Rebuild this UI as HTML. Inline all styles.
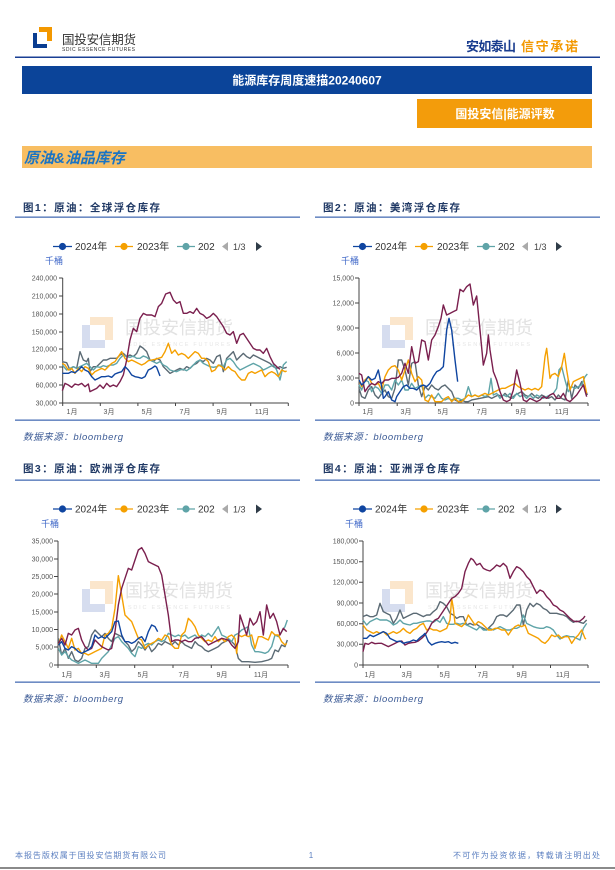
<!DOCTYPE html>
<html><head><meta charset="utf-8">
<style>
html,body{margin:0;padding:0;background:#fff;}
body{width:615px;height:870px;position:relative;overflow:hidden;font-family:"Liberation Sans","Noto Sans CJK SC",sans-serif;}
svg{position:absolute;left:0;top:0;}
.ax{stroke:#444;stroke-width:1;fill:none;}
.yl{font-size:7px;fill:#555;text-anchor:end;}
.xl{font-size:7px;fill:#555;text-anchor:middle;}
.lg{font-size:10px;fill:#333;}
.ln{fill:none;stroke-width:1.4;stroke-linejoin:round;vector-effect:non-scaling-stroke;}
.pu{stroke:#7a1f4e;} .gr{stroke:#5b6a74;} .te{stroke:#5fa4a8;} .or{stroke:#f5a000;} .bl{stroke:#0f45a0;}
.ti{font-size:10.5px;font-weight:bold;fill:#1f3864;}
.src{font-size:9.5px;font-style:italic;fill:#3b5a95;}
.unit{font-size:9px;fill:#4169c8;}
.wm{font-size:18px;fill:#e2e2e2;}
.wms{font-size:5.5px;fill:#e6e6e6;letter-spacing:2px;}
</style></head>
<body>
<svg width="615" height="870" viewBox="0 0 615 870" xmlns="http://www.w3.org/2000/svg">
<!-- header logo -->
<rect x="33" y="33" width="14" height="15" fill="#0a3d91"/>
<rect x="37" y="33" width="10" height="11" fill="#fff"/>
<rect x="39" y="27" width="13" height="5" fill="#f39800"/>
<rect x="47" y="27" width="5" height="14" fill="#f39800"/>
<text x="62" y="44" font-size="12.5" fill="#333" textLength="74">国投安信期货</text>
<text x="62" y="51" font-size="5" fill="#333" textLength="73">SDIC ESSENCE FUTURES</text>
<text x="466" y="51" font-size="13" font-weight="bold" fill="#1a3d8f" textLength="50">安如泰山</text>
<text x="521" y="51" font-size="13" font-weight="bold" fill="#f39800" textLength="57">信守承诺</text>
<rect x="15" y="56.5" width="585" height="1.5" fill="#1a3f94"/>
<!-- title bars -->
<rect x="22" y="66" width="570" height="28" fill="#0b4499"/>
<text x="307" y="84.5" font-size="12" font-weight="bold" fill="#fff" text-anchor="middle">能源库存周度速描20240607</text>
<rect x="417" y="99" width="175" height="29" fill="#f39c0b"/>
<text x="505" y="118" font-size="12" font-weight="bold" fill="#fff" text-anchor="middle">国投安信|能源评数</text>
<rect x="22" y="146" width="570" height="22" fill="#f8be62"/>
<text x="24" y="163" font-size="15" font-weight="bold" font-style="italic" fill="#1a74c4">原油&amp;油品库存</text>

<!-- ============ CHART 1 ============ -->
<text class="ti" x="23" y="211" textLength="137">图1：原油：全球浮仓库存</text>
<rect x="15" y="216.5" width="285" height="1.3" fill="#4a6fb5"/>
<g>
<line x1="53" y1="246.5" x2="72" y2="246.5" stroke="#0f45a0" stroke-width="1.2"/><circle cx="62.5" cy="246.5" r="3.6" fill="#0f45a0"/>
<text class="lg" x="75" y="250">2024年</text>
<line x1="115" y1="246.5" x2="133" y2="246.5" stroke="#f5a000" stroke-width="1.2"/><circle cx="124" cy="246.5" r="3.6" fill="#f5a000"/>
<text class="lg" x="137" y="250">2023年</text>
<line x1="177" y1="246.5" x2="195" y2="246.5" stroke="#5fa4a8" stroke-width="1.2"/><circle cx="186" cy="246.5" r="3.6" fill="#5fa4a8"/>
<text class="lg" x="198" y="250">202</text>
<polygon points="228,242 228,251 222,246.5" fill="#aaa"/>
<text x="233" y="250" font-size="9" fill="#444">1/3</text>
<polygon points="256,242 256,251 262,246.5" fill="#2f3c48"/>
</g>
<text class="unit" x="45" y="264">千桶</text>
<!-- watermark -->
<rect x="82" y="325" width="23" height="23" fill="#d6ddef"/><rect x="90" y="325" width="15" height="15" fill="#fff"/>
<rect x="90" y="317" width="23" height="8" fill="#fbe6cc"/><rect x="105" y="317" width="8" height="23" fill="#fbe6cc"/>
<text class="wm" x="125" y="334" textLength="108">国投安信期货</text>
<text class="wms" x="128" y="346" textLength="104">SDIC ESSENCE FUTURES</text>
<!-- axes -->
<path class="ax" d="M62.7,278 V403 H288.3"/>
<path class="ax" d="M59,278H62.7M59,296H62.7M59,314H62.7M59,332H62.7M59,349H62.7M59,367H62.7M59,385H62.7M59,403H62.7 M62.7,403v3M100.3,403v3M137.9,403v3M175.5,403v3M213.1,403v3M250.7,403v3M288.3,403v3"/>
<text class="yl" x="57" y="280.5">240,000</text>
<text class="yl" x="57" y="298.5">210,000</text>
<text class="yl" x="57" y="316.5">180,000</text>
<text class="yl" x="57" y="334.5">150,000</text>
<text class="yl" x="57" y="351.5">120,000</text>
<text class="yl" x="57" y="369.5">90,000</text>
<text class="yl" x="57" y="387.5">60,000</text>
<text class="yl" x="57" y="405.5">30,000</text>
<text class="xl" x="72" y="414">1月</text><text class="xl" x="109" y="414">3月</text><text class="xl" x="147" y="414">5月</text><text class="xl" x="185" y="414">7月</text><text class="xl" x="222" y="414">9月</text><text class="xl" x="262" y="414">11月</text>
<g transform="translate(55,270) scale(0.33333)">
<polyline class="ln gr" points="22,275 35,278 45,300 55,290 65,295 75,245 85,270 95,275 100,265 105,305 115,290 125,290 135,280 145,270 155,270 165,265 175,265 185,265 195,255 205,250 215,260 225,255 235,260 245,250 255,228 265,235 275,245 285,270 295,275 305,265 315,270 325,290 335,300 345,310 355,305 365,300 375,295 385,300 395,290 405,295 415,285 425,280 435,270 445,275 455,265 465,270 475,280 485,260 495,255 505,305 515,265 525,255 535,245 545,270 555,260 565,250 575,260 585,265 595,255 605,260 615,265 625,270 635,275 645,280 655,290 665,295 675,290 685,295 695,292"/>
<polyline class="ln te" points="22,285 35,300 45,295 55,290 65,295 75,290 85,285 95,280 105,290 115,300 125,290 135,292 145,287 155,290 165,285 175,285 185,280 195,265 205,255 215,260 225,262 235,258 245,265 255,265 265,258 275,262 285,270 295,275 305,280 315,275 325,285 335,290 345,300 355,303 365,305 375,300 385,298 395,302 405,295 415,285 425,275 435,270 445,280 455,285 465,290 475,292 485,290 495,285 505,290 515,270 525,265 535,275 545,290 555,300 565,295 575,290 585,285 595,280 605,285 615,290 625,300 635,295 645,290 655,285 665,300 675,330 685,285 695,275"/>
<polyline class="ln or" points="22,280 30,285 40,300 50,295 60,310 70,295 80,305 90,290 100,295 110,315 120,305 130,300 140,295 150,300 160,290 170,280 180,275 190,260 200,245 210,265 220,275 230,270 240,275 250,280 260,285 270,280 280,272 290,270 300,268 310,265 320,262 330,245 340,220 350,250 360,240 370,255 380,250 390,255 400,265 410,255 420,245 430,250 440,265 450,265 460,275 470,305 480,300 490,285 500,290 510,300 520,290 530,300 540,305 550,320 560,330 570,330 580,310 590,305 600,310 610,305 620,300 630,320 640,310 650,305 660,310 670,320 680,300 690,305 695,303"/>
<polyline class="ln pu" points="22,362 30,340 40,345 50,352 60,342 70,345 80,340 90,350 100,342 105,365 115,360 125,355 135,345 145,355 155,340 165,350 175,345 185,350 195,335 205,315 215,270 225,210 235,175 245,185 255,145 265,130 275,135 290,135 300,140 310,110 320,100 332,72 345,67 355,90 365,100 375,95 385,130 395,130 405,125 415,130 425,115 435,130 445,135 455,145 465,140 475,130 485,140 495,155 505,170 515,190 525,195 535,185 545,220 555,195 565,190 575,205 585,220 595,235 605,240 615,240 625,250 635,235 645,260 655,280 665,290 675,298"/>
<polyline class="ln bl" points="22,310 30,310 40,310 50,305 60,308 70,300 80,290 90,300 100,305 110,320 120,330 130,325 140,320 150,320 160,318 170,322 180,312 190,308 200,305 210,290 220,300 230,315 240,320 250,322 260,325 270,320 280,300 290,295 300,288 305,292 315,318"/>
</g>
<rect x="15" y="419.5" width="285" height="1.3" fill="#4a6fb5"/>
<text class="src" x="23" y="440" textLength="100">数据来源：bloomberg</text>

<!-- ============ CHART 2 ============ -->
<text class="ti" x="323" y="211" textLength="137">图2：原油：美湾浮仓库存</text>
<rect x="315" y="216.5" width="285" height="1.3" fill="#4a6fb5"/>
<g>
<line x1="353" y1="246.5" x2="372" y2="246.5" stroke="#0f45a0" stroke-width="1.2"/><circle cx="362.5" cy="246.5" r="3.6" fill="#0f45a0"/>
<text class="lg" x="375" y="250">2024年</text>
<line x1="415" y1="246.5" x2="433" y2="246.5" stroke="#f5a000" stroke-width="1.2"/><circle cx="424" cy="246.5" r="3.6" fill="#f5a000"/>
<text class="lg" x="437" y="250">2023年</text>
<line x1="477" y1="246.5" x2="495" y2="246.5" stroke="#5fa4a8" stroke-width="1.2"/><circle cx="486" cy="246.5" r="3.6" fill="#5fa4a8"/>
<text class="lg" x="498" y="250">202</text>
<polygon points="528,242 528,251 522,246.5" fill="#aaa"/>
<text x="534" y="250" font-size="9" fill="#444">1/3</text>
<polygon points="556,242 556,251 562,246.5" fill="#2f3c48"/>
</g>
<text class="unit" x="341" y="264">千桶</text>
<rect x="382" y="325" width="23" height="23" fill="#d6ddef"/><rect x="390" y="325" width="15" height="15" fill="#fff"/>
<rect x="390" y="317" width="23" height="8" fill="#fbe6cc"/><rect x="405" y="317" width="8" height="23" fill="#fbe6cc"/>
<text class="wm" x="425" y="334" textLength="108">国投安信期货</text>
<text class="wms" x="428" y="346" textLength="104">SDIC ESSENCE FUTURES</text>
<path class="ax" d="M359,278 V403 H588"/>
<path class="ax" d="M355,278H359M355,303H359M355,328H359M355,353H359M355,378H359M355,403H359 M359,403v3M397.2,403v3M435.3,403v3M473.5,403v3M511.7,403v3M549.8,403v3M588,403v3"/>
<text class="yl" x="354" y="280.5">15,000</text>
<text class="yl" x="354" y="305.5">12,000</text>
<text class="yl" x="354" y="330.5">9,000</text>
<text class="yl" x="354" y="355.5">6,000</text>
<text class="yl" x="354" y="380.5">3,000</text>
<text class="yl" x="354" y="405.5">0</text>
<text class="xl" x="368" y="414">1月</text><text class="xl" x="406" y="414">3月</text><text class="xl" x="443" y="414">5月</text><text class="xl" x="482" y="414">7月</text><text class="xl" x="521" y="414">9月</text><text class="xl" x="562" y="414">11月</text>
<g transform="translate(355,270) scale(0.33333)">
<polyline class="ln gr" points="12,355 20,380 30,385 40,360 50,350 60,375 70,385 80,370 90,360 100,380 110,385 120,355 130,270 140,270 150,300 160,345 170,280 180,275 190,345 200,380 210,350 220,360 230,345 240,355 250,360 260,350 270,345 280,355 290,365 300,390 310,395 320,390 330,395 340,395 350,390 400,380 410,385 420,380 430,375 440,380 450,370 460,380 470,385 480,375 490,370 500,365 510,375 520,380 530,370 540,380 550,385 560,375 570,380 580,385 590,380 600,390 610,375 620,385 630,390 640,330 650,385 660,345 670,355 680,335 690,355 697,375"/>
<polyline class="ln te" points="12,345 20,360 30,330 40,335 50,365 60,350 70,355 80,370 90,345 100,345 110,360 120,330 130,345 140,330 150,360 160,360 170,340 180,355 190,350 200,345 210,385 220,375 230,380 240,385 250,370 260,385 270,390 280,385 290,390 300,385 310,385 320,390 330,385 340,350 350,380 360,375 370,380 380,375 390,380 400,375 408,325 415,375 425,370 435,385 445,375 455,380 465,370 475,385 485,370 495,380 505,375 515,385 525,375 535,385 545,375 555,380 565,385 575,380 585,375 595,370 605,355 612,300 620,290 630,330 640,365 650,350 660,355 670,350 680,345 690,320 697,312"/>
<polyline class="ln or" points="12,330 20,350 30,330 40,320 50,340 60,345 70,340 80,360 90,320 100,300 110,290 120,287 130,300 140,330 150,300 160,270 170,310 180,335 190,320 200,330 210,390 220,395 230,375 240,395 250,395 260,395 270,385 280,380 290,395 300,385 310,395 320,395 330,385 340,375 350,380 360,375 370,380 380,375 390,370 400,375 410,370 420,365 430,360 440,355 450,355 460,350 470,345 480,340 490,350 500,355 510,360 520,355 530,360 540,355 550,360 560,350 570,260 575,235 585,325 590,315 600,310 610,320 620,290 628,250 635,300 645,360 655,335 665,330 675,325 685,320 695,370"/>
<polyline class="ln pu" points="12,310 20,315 30,365 40,350 50,340 60,345 70,335 80,340 90,330 100,330 110,325 120,325 130,322 140,310 150,280 160,310 170,230 180,280 190,275 200,210 210,215 220,270 230,210 240,195 250,170 258,145 265,105 275,135 285,130 295,125 305,120 315,58 325,65 335,50 345,42 355,105 365,78 375,180 385,285 395,250 400,195 405,240 415,305 425,330 435,365 445,390 455,395 465,390 475,360 485,300 495,340 505,390 515,395 525,385 535,390 545,395 555,390 565,380 575,385 585,375 595,370 605,385 615,385 625,370 635,390 645,395 655,385 665,375 675,360 685,345 695,380"/>
<polyline class="ln bl" points="12,330 20,345 30,335 40,320 50,330 60,325 70,300 80,350 85,385 90,380 100,365 110,390 120,395 125,380 135,365 145,350 155,345 165,355 175,355 185,360 195,350 205,345 215,350 225,340 235,320 245,305 255,300 265,290 275,180 282,145 290,180 300,270 308,335"/>
</g>
<rect x="315" y="419.5" width="285" height="1.3" fill="#4a6fb5"/>
<text class="src" x="323" y="440" textLength="100">数据来源：bloomberg</text>

<!-- ============ CHART 3 ============ -->
<text class="ti" x="23" y="472" textLength="137">图3：原油：欧洲浮仓库存</text>
<rect x="15" y="479.5" width="285" height="1.3" fill="#4a6fb5"/>
<g>
<line x1="53" y1="509" x2="72" y2="509" stroke="#0f45a0" stroke-width="1.2"/><circle cx="62.5" cy="509" r="3.6" fill="#0f45a0"/>
<text class="lg" x="75" y="512.5">2024年</text>
<line x1="115" y1="509" x2="133" y2="509" stroke="#f5a000" stroke-width="1.2"/><circle cx="124" cy="509" r="3.6" fill="#f5a000"/>
<text class="lg" x="137" y="512.5">2023年</text>
<line x1="177" y1="509" x2="195" y2="509" stroke="#5fa4a8" stroke-width="1.2"/><circle cx="186" cy="509" r="3.6" fill="#5fa4a8"/>
<text class="lg" x="198" y="512.5">202</text>
<polygon points="228,504.5 228,513.5 222,509" fill="#aaa"/>
<text x="233" y="512.5" font-size="9" fill="#444">1/3</text>
<polygon points="256,504.5 256,513.5 262,509" fill="#2f3c48"/>
</g>
<text class="unit" x="41" y="527">千桶</text>
<rect x="82" y="589" width="23" height="23" fill="#d6ddef"/><rect x="90" y="589" width="15" height="15" fill="#fff"/>
<rect x="90" y="581" width="23" height="8" fill="#fbe6cc"/><rect x="105" y="581" width="8" height="23" fill="#fbe6cc"/>
<text class="wm" x="125" y="597" textLength="108">国投安信期货</text>
<text class="wms" x="128" y="609" textLength="104">SDIC ESSENCE FUTURES</text>
<path class="ax" d="M58,541 V665 H288"/>
<path class="ax" d="M54,541H58M54,559H58M54,576.5H58M54,594H58M54,612H58M54,629.5H58M54,647H58M54,665H58 M58,665v3M96.3,665v3M134.7,665v3M173,665v3M211.3,665v3M249.7,665v3M288,665v3"/>
<text class="yl" x="53" y="543.5">35,000</text>
<text class="yl" x="53" y="561.5">30,000</text>
<text class="yl" x="53" y="579">25,000</text>
<text class="yl" x="53" y="596.5">20,000</text>
<text class="yl" x="53" y="614.5">15,000</text>
<text class="yl" x="53" y="632">10,000</text>
<text class="yl" x="53" y="649.5">5,000</text>
<text class="yl" x="53" y="667.5">0</text>
<text class="xl" x="67" y="677">1月</text><text class="xl" x="105" y="677">3月</text><text class="xl" x="143" y="677">5月</text><text class="xl" x="184" y="677">7月</text><text class="xl" x="222" y="677">9月</text><text class="xl" x="261" y="677">11月</text>
<g transform="translate(55,535) scale(0.33333)">
<polyline class="ln gr" points="10,310 20,360 30,340 40,370 50,350 60,375 70,380 80,370 90,340 100,335 110,300 120,285 130,295 140,305 150,295 160,310 170,320 180,295 190,300 200,305 210,320 220,330 230,350 240,340 250,320 260,330 270,345 280,330 290,350 300,340 310,325 320,330 330,320 340,325 350,330 360,320 370,330 380,320 390,330 400,335 410,340 420,320 430,330 440,335 450,345 460,350 470,345 480,340 490,335 500,325 510,320 520,315 530,320 540,330 550,370 560,380 580,380 600,382 620,380 640,375 650,370 660,345 670,350 680,330 690,335 697,315"/>
<polyline class="ln te" points="10,340 20,360 30,350 40,365 50,375 60,380 70,385 80,380 90,375 100,380 110,385 120,385 130,385 140,370 150,360 160,350 170,330 180,310 190,305 200,320 210,330 220,340 230,355 240,365 250,335 260,340 270,330 280,325 290,330 300,320 310,315 320,320 330,315 340,295 350,300 360,305 370,300 380,305 390,300 400,310 410,305 420,300 430,310 440,300 450,305 460,295 470,305 480,290 490,275 500,300 510,305 520,310 530,320 540,300 550,295 560,285 570,280 580,275 590,330 600,350 610,350 620,352 630,355 640,350 650,335 660,300 670,305 680,290 690,275 697,255"/>
<polyline class="ln or" points="10,330 20,300 30,320 40,340 50,310 60,345 70,340 80,355 90,355 100,360 110,355 120,350 130,345 140,340 150,300 160,295 170,280 180,220 190,122 200,180 210,240 220,250 230,260 240,285 250,310 260,315 270,340 280,330 290,325 300,320 310,310 320,315 330,300 340,305 350,330 360,340 370,340 380,300 390,290 400,250 410,260 420,275 430,300 440,310 450,320 460,315 470,320 480,305 490,320 500,310 510,320 520,305 530,300 540,310 545,355 550,300 560,305 570,300 580,305 590,300 600,340 610,305 620,305 630,310 640,315 650,290 660,300 670,300 680,320 690,330 695,325"/>
<polyline class="ln pu" points="10,325 20,310 30,330 40,295 50,300 60,285 70,280 80,315 90,335 100,345 110,340 120,315 130,325 140,335 150,340 160,345 170,340 180,290 190,210 200,160 210,130 220,100 230,105 240,75 250,45 260,38 270,55 280,80 290,85 300,90 310,95 320,120 330,180 340,240 350,320 360,315 370,315 380,320 390,315 400,320 410,320 420,310 440,305 460,330 480,320 500,310 520,315 530,330 540,340 550,320 555,240 565,270 575,300 585,250 595,270 605,260 615,230 625,300 635,210 645,250 655,235 665,260 675,300 685,280 695,290"/>
<polyline class="ln bl" points="10,330 20,320 30,340 40,345 50,335 60,340 70,350 80,355 90,350 100,345 110,335 120,300 130,310 140,305 150,310 160,300 170,290 180,260 190,258 200,300 210,320 220,320 230,325 240,320 250,310 260,305 270,320 280,290 290,270 300,275 308,290"/>
</g>
<rect x="15" y="681.5" width="285" height="1.3" fill="#4a6fb5"/>
<text class="src" x="23" y="702" textLength="100">数据来源：bloomberg</text>

<!-- ============ CHART 4 ============ -->
<text class="ti" x="323" y="472" textLength="137">图4：原油：亚洲浮仓库存</text>
<rect x="315" y="479.5" width="285" height="1.3" fill="#4a6fb5"/>
<g>
<line x1="353" y1="509" x2="372" y2="509" stroke="#0f45a0" stroke-width="1.2"/><circle cx="362.5" cy="509" r="3.6" fill="#0f45a0"/>
<text class="lg" x="375" y="512.5">2024年</text>
<line x1="415" y1="509" x2="433" y2="509" stroke="#f5a000" stroke-width="1.2"/><circle cx="424" cy="509" r="3.6" fill="#f5a000"/>
<text class="lg" x="437" y="512.5">2023年</text>
<line x1="477" y1="509" x2="495" y2="509" stroke="#5fa4a8" stroke-width="1.2"/><circle cx="486" cy="509" r="3.6" fill="#5fa4a8"/>
<text class="lg" x="498" y="512.5">202</text>
<polygon points="528,504.5 528,513.5 522,509" fill="#aaa"/>
<text x="534" y="512.5" font-size="9" fill="#444">1/3</text>
<polygon points="556,504.5 556,513.5 562,509" fill="#2f3c48"/>
</g>
<text class="unit" x="345" y="527">千桶</text>
<rect x="382" y="589" width="23" height="23" fill="#d6ddef"/><rect x="390" y="589" width="15" height="15" fill="#fff"/>
<rect x="390" y="581" width="23" height="8" fill="#fbe6cc"/><rect x="405" y="581" width="8" height="23" fill="#fbe6cc"/>
<text class="wm" x="425" y="597" textLength="108">国投安信期货</text>
<text class="wms" x="428" y="609" textLength="104">SDIC ESSENCE FUTURES</text>
<path class="ax" d="M363,541 V665 H588"/>
<path class="ax" d="M359,541H363M359,561.7H363M359,582.3H363M359,603H363M359,623.7H363M359,644.3H363M359,665H363 M363,665v3M400.5,665v3M438,665v3M475.5,665v3M513,665v3M550.5,665v3M588,665v3"/>
<text class="yl" x="358" y="543.5">180,000</text>
<text class="yl" x="358" y="564">150,000</text>
<text class="yl" x="358" y="584.5">120,000</text>
<text class="yl" x="358" y="605.5">90,000</text>
<text class="yl" x="358" y="626">60,000</text>
<text class="yl" x="358" y="646.5">30,000</text>
<text class="yl" x="358" y="667.5">0</text>
<text class="xl" x="370" y="677">1月</text><text class="xl" x="407" y="677">3月</text><text class="xl" x="445" y="677">5月</text><text class="xl" x="483" y="677">7月</text><text class="xl" x="522" y="677">9月</text><text class="xl" x="563" y="677">11月</text>
<g transform="translate(355,535) scale(0.33333)">
<polyline class="ln gr" points="24,245 35,240 45,245 55,245 65,240 75,205 85,230 95,235 105,240 115,265 125,250 135,225 145,250 155,245 165,240 175,235 185,235 195,240 205,245 215,240 225,240 235,230 245,222 255,200 265,205 275,215 285,235 295,240 305,250 315,245 325,245 335,270 345,265 355,270 365,268 375,275 385,280 395,285 405,275 415,265 425,245 435,240 445,240 455,245 465,235 475,225 485,210 495,210 505,270 515,225 525,205 535,215 545,205 555,210 565,220 575,225 585,235 595,235 605,235 615,238 625,240 635,245 645,255 655,262 665,258 675,262 685,265 695,255"/>
<polyline class="ln te" points="24,255 35,270 45,260 55,255 65,250 75,255 85,255 95,255 105,260 115,270 125,265 135,255 145,265 155,268 165,270 175,265 185,265 195,262 205,260 215,258 225,258 235,262 245,255 255,262 265,245 275,265 285,268 295,268 305,265 315,268 325,265 335,270 345,275 355,280 365,285 375,275 385,285 395,285 405,280 415,285 425,280 435,275 445,280 455,285 465,285 475,280 485,280 495,275 505,240 515,265 525,270 535,275 545,278 555,280 565,280 575,275 585,278 595,285 605,300 615,312 625,305 635,302 645,305 655,305 665,310 675,315 685,280 695,265"/>
<polyline class="ln or" points="24,270 35,285 45,290 55,295 65,290 75,295 85,290 95,300 105,295 115,290 125,295 135,290 145,280 155,290 165,295 175,285 185,280 195,270 205,265 215,285 225,280 235,285 245,285 255,290 265,285 275,280 285,255 290,190 295,220 300,265 310,270 320,275 330,265 340,240 350,255 360,270 370,260 380,265 390,275 400,285 410,285 420,280 430,280 440,285 450,285 460,300 470,285 480,275 490,270 500,275 510,270 520,295 530,300 540,305 550,310 560,320 570,325 580,315 590,300 600,305 610,300 620,310 630,305 640,305 650,325 660,310 670,300 680,285 690,310 693,312"/>
<polyline class="ln pu" points="24,350 30,325 40,328 50,322 60,326 70,325 80,325 90,330 100,335 110,330 120,325 130,320 140,318 150,330 160,325 170,323 180,322 190,318 200,310 210,300 220,285 230,265 240,255 250,250 260,235 270,220 280,205 290,190 300,185 310,175 320,160 330,110 340,85 348,70 355,75 365,90 375,85 385,100 395,105 405,108 415,100 425,90 435,95 445,85 455,95 465,130 475,110 485,95 495,100 505,110 515,125 525,135 535,155 545,175 555,165 565,170 575,185 585,195 595,210 605,215 615,225 625,230 635,240 645,250 655,258 665,260 675,258 685,250 690,243"/>
<polyline class="ln bl" points="24,310 35,310 45,300 55,305 65,300 75,295 85,290 95,295 105,310 115,315 125,320 135,318 145,325 155,322 165,320 175,315 185,318 195,308 205,300 210,295 220,320 230,330 240,325 250,322 260,320 270,322 280,320 290,325 300,322 310,325"/>
</g>
<rect x="315" y="681.5" width="285" height="1.3" fill="#4a6fb5"/>
<text class="src" x="323" y="702" textLength="100">数据来源：bloomberg</text>

<!-- footer -->
<text x="15" y="858" font-size="8" fill="#5b7fc0" textLength="151">本报告版权属于国投安信期货有限公司</text>
<text x="311" y="858" font-size="8" fill="#5b7fc0" text-anchor="middle">1</text>
<text x="453" y="858" font-size="8" fill="#5b7fc0" textLength="147">不可作为投资依据，转载请注明出处</text>
<rect x="0" y="867" width="615" height="2" fill="#8a8a8a"/>
</svg>
</body></html>
